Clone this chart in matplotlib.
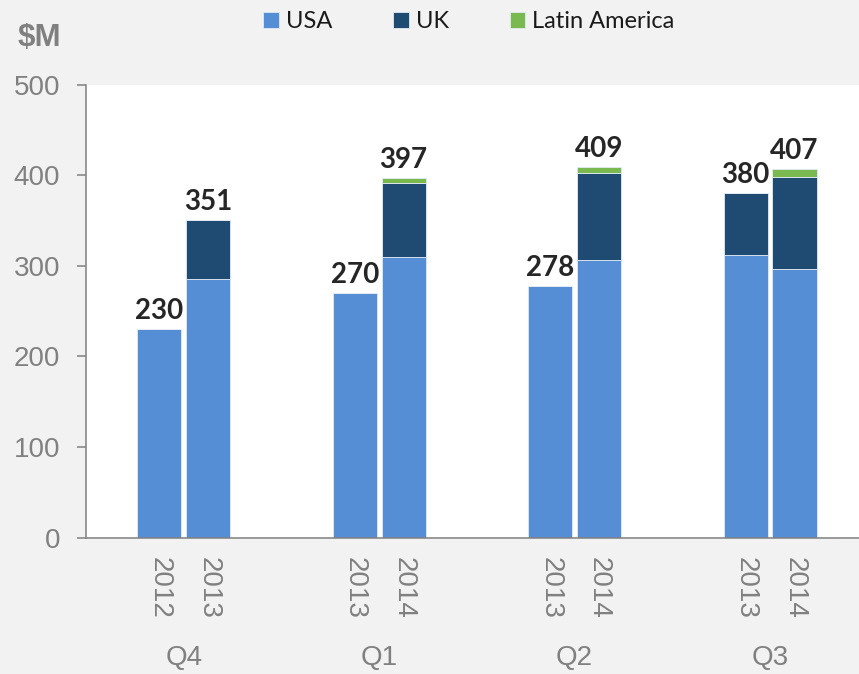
import matplotlib
matplotlib.use("Agg")
import matplotlib.pyplot as plt
from matplotlib.transforms import blended_transform_factory
import numpy as np

quarters = ["Q4", "Q1", "Q2", "Q3"]
years = ["2012", "2013", "2013", "2014", "2013", "2014", "2013", "2014"]
usa = [230, 285, 270, 310, 278, 306, 312, 296]
uk = [0, 66, 0, 81, 0, 96, 68, 102]
latam = [0, 0, 0, 6, 0, 7, 0, 9]
totals = [230, 351, 270, 397, 278, 409, 380, 407]
series_names = ["USA", "UK", "Latin America"]

c_usa = "#558ed5"
c_uk = "#1f4a72"
c_lat = "#7ab850"
bg = "#f2f2f2"
gray = "#808080"

fig = plt.figure(figsize=(8.59, 6.74), dpi=100, facecolor=bg)
ax = fig.add_axes([86 / 859, 1 - 537.7 / 674, 1 - 86 / 859, 453.2 / 674])
ax.set_facecolor("white")

group = np.repeat(np.arange(4), 2)
offs = np.tile([-0.125, 0.125], 4)
x = group + offs
w = 0.226

usa_a = np.array(usa)
uk_a = np.array(uk)
lat_a = np.array(latam)
ec = "#e3ebf5"
b1 = ax.bar(x, usa_a, w, color=c_usa, edgecolor=ec, linewidth=0.6, label=series_names[0], zorder=2)
b2 = ax.bar(x, uk_a, w, bottom=usa_a, color=c_uk, edgecolor=ec, linewidth=0.6, label=series_names[1], zorder=2)
b3 = ax.bar(x, lat_a, w, bottom=usa_a + uk_a, color=c_lat, edgecolor=ec, linewidth=0.6, label=series_names[2], zorder=2)

for xi, t in zip(x, totals):
    ax.annotate(str(t), (xi, t), xytext=(0, 3.5), textcoords="offset points",
                ha="center", va="bottom", fontsize=20, fontweight="bold",
                color="#262626", family="Lato")

ax.set_xlim(-0.5, 3.455)
ax.set_ylim(0, 500)
ax.set_yticks([0, 100, 200, 300, 400, 500])
ax.tick_params(axis="y", length=6.5, width=1.1, color=gray, pad=12,
               labelsize=20, labelcolor=gray)
for lab in ax.get_yticklabels():
    lab.set_family("Liberation Sans")
ax.set_xticks(x)
ax.set_xticklabels(years, rotation=270, fontsize=20, color=gray, family="Liberation Sans")
ax.tick_params(axis="x", length=0, pad=14)

for s in ["top", "right"]:
    ax.spines[s].set_visible(False)
for s in ["left", "bottom"]:
    ax.spines[s].set_color(gray)
    ax.spines[s].set_linewidth(1.1)

trans = blended_transform_factory(ax.transData, ax.transAxes)
for i, q in enumerate(quarters):
    ax.text(i, -0.265, q, transform=trans, ha="center", va="center",
            fontsize=20, color=gray, family="Liberation Sans")

fig.text(61 / 859, 1 - 38 / 674, "$M", ha="right", va="center", fontsize=22.5,
         fontweight="bold", color=gray, family="Liberation Sans")

leg = fig.legend(handles=[b1, b2, b3], labels=series_names, loc="center",
                 bbox_to_anchor=(469 / 859, 1 - 22 / 674), ncol=3, frameon=False,
                 handlelength=0.64, handleheight=0.64,
                 handletextpad=0.3, columnspacing=2.6, borderpad=0,
                 prop={"family": "Lato", "size": 17})
for t in leg.get_texts():
    t.set_color("#1a1a1a")

fig.savefig("out.png", dpi=100, facecolor=bg)
